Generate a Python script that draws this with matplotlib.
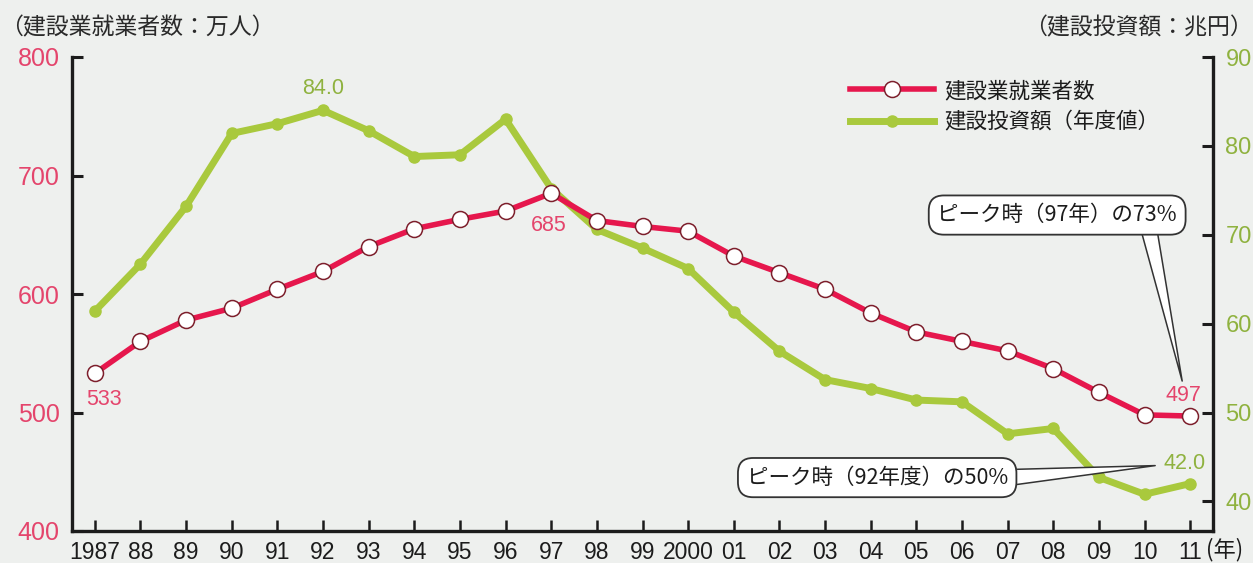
import matplotlib
matplotlib.use("Agg")
import matplotlib.pyplot as plt
from matplotlib.lines import Line2D
from matplotlib import transforms as mtrans

# ---- data -------------------------------------------------------------
years = ["1987", "88", "89", "90", "91", "92", "93", "94", "95", "96", "97", "98",
         "99", "2000", "01", "02", "03", "04", "05", "06", "07", "08", "09", "10", "11"]
workers = [533, 560, 578, 588, 604, 619, 640, 655, 663, 670, 685, 662,
           657, 653, 632, 618, 604, 584, 568, 560, 552, 537, 517, 498, 497]
investment = [61.4, 66.7, 73.2, 81.4, 82.5, 84.0, 81.7, 78.8, 79.0, 83.0, 75.2, 70.6,
              68.5, 66.2, 61.3, 56.9, 53.7, 52.7, 51.4, 51.2, 47.6, 48.2, 42.7, 40.8, 42.0]
left_ticks = [400, 500, 600, 700, 800]
right_ticks = [40, 50, 60, 70, 80, 90]

workers_label = "建設業就業者数"
investment_label = "建設投資額（年度値）"
left_title = "（建設業就業者数：万人）"
right_title = "（建設投資額：兆円）"
year_unit = "(年)"
note_workers = "ピーク時（97年）の73%"
note_invest = "ピーク時（92年度）の50%"

# ---- style ------------------------------------------------------------
RED = "#e6174d"
RED_TXT = "#e4456c"
RED_EDGE = "#7d1f2c"
GREEN = "#a9c93d"
GREEN_TXT = "#8fb23f"
BG = "#eef0ee"
INK = "#1c1c1c"
CJK = ["Noto Sans CJK JP", "DejaVu Sans"]
NUM = ["Liberation Sans", "DejaVu Sans"]
NARROW = ["Liberation Sans Narrow", "Liberation Sans", "DejaVu Sans"]

W, H = 1253, 563
fig = plt.figure(figsize=(W / 100, H / 100), dpi=100, facecolor=BG)
ax = fig.add_axes([72 / W, 1 - 531 / H, (1213 - 72) / W, (531 - 57) / H])
ax2 = ax.twinx()
ax.set_zorder(ax2.get_zorder() + 1)
ax.patch.set_visible(False)
ax2.patch.set_facecolor(BG)

x = list(range(len(years)))

# investment (right axis)
ax2.plot(x, investment, color=GREEN, lw=5, marker="o", ms=8,
         mfc=GREEN, mec=GREEN, solid_joinstyle="round", zorder=2)
# workers (left axis)
ax.plot(x, workers, color=RED, lw=4, marker="o", ms=11.5,
        mfc="white", mec=RED_EDGE, mew=1.1, zorder=3)

# ---- axes -------------------------------------------------------------
ax.set_xlim(-0.5, len(years) - 0.5)
ax.set_ylim(400, 800)
ax2.set_ylim(90 - 40 / 0.75, 90)

for a in (ax, ax2):
    a.spines["top"].set_visible(False)
    for s in a.spines.values():
        s.set_linewidth(2.4)
        s.set_color(INK)
ax.spines["right"].set_visible(False)
ax2.spines["left"].set_visible(False)
ax2.spines["bottom"].set_visible(False)

ax.set_xticks(x)
ax.set_xticklabels(years)
ax.set_yticks(left_ticks)
ax.set_yticklabels([str(v) for v in left_ticks])
ax2.set_yticks(right_ticks)
ax2.set_yticklabels([str(v) for v in right_ticks])

ax.tick_params(axis="x", direction="in", length=8, width=1.8, color=INK,
               pad=7, labelsize=16.5, labelcolor=INK)
ax.tick_params(axis="y", direction="in", length=8, width=2.2, color=INK,
               pad=9, labelsize=18, labelcolor=RED_TXT)
ax2.tick_params(axis="y", direction="in", length=8, width=2.2, color=INK,
                pad=9, labelsize=17, labelcolor=GREEN_TXT)
for lab in ax.get_xticklabels():
    lab.set_fontfamily(NARROW if len(lab.get_text()) > 2 else NUM)
for lab in ax.get_yticklabels() + ax2.get_yticklabels():
    lab.set_fontfamily(NUM)

# ---- value labels -------------------------------------------------------
def value_label(axis, i, series, dx, dy, color, fmt):
    axis.annotate(fmt.format(series[i]), (i, series[i]), xytext=(dx, dy),
                  textcoords="offset pixels", ha="center", va="center",
                  color=color, fontsize=15.5, family=NUM, zorder=6)

value_label(ax, 0, workers, 9, -26, RED_TXT, "{:d}")
value_label(ax, 10, workers, -2, -32, RED_TXT, "{:d}")
value_label(ax, 24, workers, -7, 21, RED_TXT, "{:d}")
value_label(ax2, 5, investment, 0, 22, GREEN_TXT, "{:.1f}")
value_label(ax2, 24, investment, -6, 20, GREEN_TXT, "{:.1f}")

# ---- callouts -----------------------------------------------------------
def callout(axis, i, series, tip_dx, tip_dy, text, tdx, tdy, relpos):
    tip = mtrans.offset_copy(axis.transData, fig=fig, x=tip_dx, y=tip_dy, units="dots")
    axis.annotate(text, (i, series[i]), xycoords=tip, xytext=(tdx, tdy),
                  textcoords="offset pixels", ha="center", va="center",
                  fontsize=15.5, family=CJK, color=INK, zorder=7,
                  bbox=dict(boxstyle="round,pad=0.4,rounding_size=0.7",
                            fc="white", ec="#333333", lw=1.3),
                  arrowprops=dict(arrowstyle="wedge,tail_width=0.75,shrink_factor=0.5",
                                  fc="white", ec="#333333", lw=1.1,
                                  relpos=relpos, patchA=None,
                                  shrinkA=0, shrinkB=0))

callout(ax, 24, workers, -8, 35, note_workers, -125, 166, (0.88, 0.0))
callout(ax2, 24, investment, -35, 18, note_invest, -278, -12, (1.0, 0.5))

# ---- legend -------------------------------------------------------------
handles = [
    Line2D([], [], color=RED, lw=4, marker="o", ms=11.5, mfc="white",
           mec=RED_EDGE, mew=1.1),
    Line2D([], [], color=GREEN, lw=5, marker="o", ms=8, mfc=GREEN, mec=GREEN),
]
leg = ax.legend(handles, [workers_label, investment_label], loc="upper left",
                bbox_to_anchor=(850 / W, 1 - 80 / H), bbox_transform=fig.transFigure,
                frameon=False, handlelength=3.9, handletextpad=0.5,
                labelspacing=0.45, borderpad=0, borderaxespad=0,
                prop={"family": CJK, "size": 15.5})
for t in leg.get_texts():
    t.set_color(INK)

# ---- axis titles --------------------------------------------------------
fig.text(0.0, 1 - 28 / H, left_title, ha="left", va="center",
         fontsize=16.5, family=CJK, color="#2a2a2a")
fig.text(1.0, 1 - 28 / H, right_title, ha="right", va="center",
         fontsize=16.5, family=CJK, color="#2a2a2a")
fig.text(1206 / W, 1 - 550 / H, year_unit, ha="left", va="center",
         fontsize=16, family=CJK, color=INK)

fig.savefig("out.png", dpi=100, facecolor=BG)
